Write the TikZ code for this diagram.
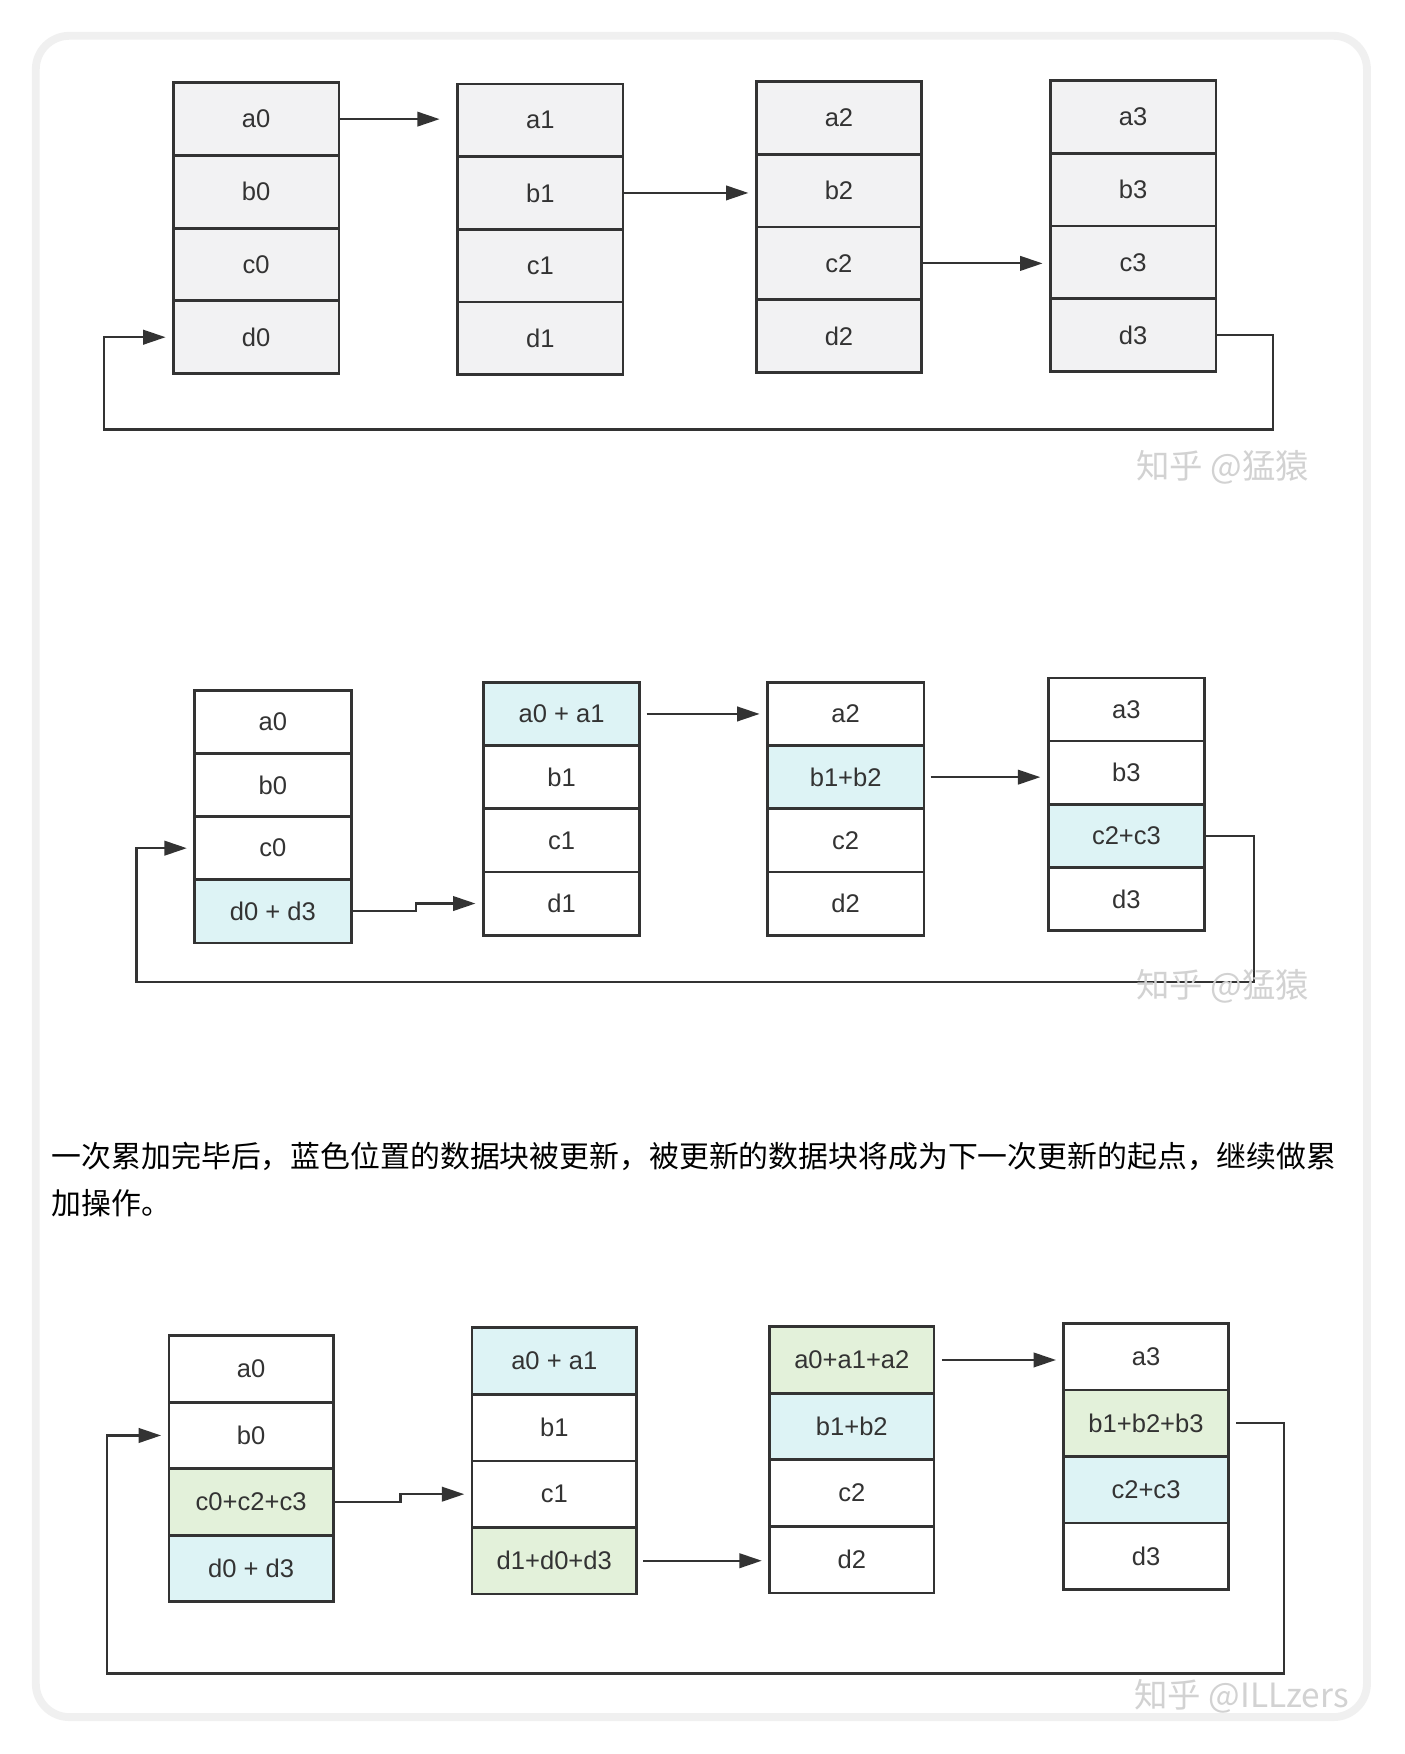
\documentclass[tikz,border=0pt]{standalone}
\usepackage{fontspec}
\setmainfont{Liberation Sans}
\newfontfamily\cjk{Noto Sans CJK SC}
\usetikzlibrary{positioning,arrows.meta}
\definecolor{cellgray}{HTML}{F2F2F3}
\definecolor{cellblue}{HTML}{DDF3F5}
\definecolor{cellgreen}{HTML}{E3F1DA}
\definecolor{linegray}{HTML}{333333}
\tikzset{my cell/.style={draw=linegray, line width=1.4pt, minimum width=2.96cm, outer sep=0pt, inner sep=0pt, font=\fontsize{13}{15}\selectfont, text=linegray},
my link/.style={draw=linegray, line width=1.1pt, -{Triangle[length=0.4cm,width=0.26cm]}, shorten >=0.14cm},
my mark/.style={font=\cjk\fontsize{17}{20}\selectfont, text=gray!35},}
\begin{document}
\begin{tikzpicture}[x=0.02cm,y=-0.02cm]
\useasboundingbox (0,0) rectangle (1256,1568);
\fill[white] (0,0) rectangle (1256,1568);
\draw[gray!12, line width=4pt, rounded corners=0.6cm, fill=white] (32,32) rectangle (1222,1535);
% first picture
\begin{scope}[every node/.append style={my cell, fill=cellgray, minimum height=1.3cm}]
\node [anchor=north west] (p1a0) at (155,74) {a0};
\node [below=0pt of p1a0] (p1b0) {b0};
\node [below=0pt of p1b0] (p1c0) {c0};
\node [below=0pt of p1c0] (p1d0) {d0};
\node [anchor=north west] (p1a1) at (409,75) {a1};
\node [below=0pt of p1a1] (p1b1) {b1};
\node [below=0pt of p1b1] (p1c1) {c1};
\node [below=0pt of p1c1] (p1d1) {d1};
\node [anchor=north west] (p1a2) at (676,73) {a2};
\node [below=0pt of p1a2] (p1b2) {b2};
\node [below=0pt of p1b2] (p1c2) {c2};
\node [below=0pt of p1c2] (p1d2) {d2};
\node [anchor=north west] (p1a3) at (939,72) {a3};
\node [below=0pt of p1a3] (p1b3) {b3};
\node [below=0pt of p1b3] (p1c3) {c3};
\node [below=0pt of p1c3] (p1d3) {d3};
\end{scope}
\coordinate (p1r) at (1138,384);
\coordinate (p1l) at (93,384);
\draw [my link, shorten >=0.32cm] (p1a0.east) -- (p1a0.east -| p1a1.west);
\draw [my link] (p1b1.east) -- (p1b1.east -| p1b2.west);
\draw [my link] (p1c2.east) -- (p1c2.east -| p1c3.west);
\draw [my link] (p1d3.east) -| (p1r) -- (p1l) |- (p1d0.west);
\node [my mark] (p1w) at (1093,418) {知乎 @猛猿};
% second picture
\begin{scope}[every node/.append style={my cell, fill=white, minimum height=1.13cm, minimum width=2.8cm}]
\node [anchor=north west] (p2a0) at (174,617) {a0};
\node [below=0pt of p2a0] (p2b0) {b0};
\node [below=0pt of p2b0] (p2c0) {c0};
\node [below=0pt of p2c0, fill=cellblue] (p2d0) {d0 + d3};
\node [anchor=north west, fill=cellblue] (p2a1) at (432,610) {a0 + a1};
\node [below=0pt of p2a1] (p2b1) {b1};
\node [below=0pt of p2b1] (p2c1) {c1};
\node [below=0pt of p2c1] (p2d1) {d1};
\node [anchor=north west] (p2a2) at (686,610) {a2};
\node [below=0pt of p2a2, fill=cellblue] (p2b2) {b1+b2};
\node [below=0pt of p2b2] (p2c2) {c2};
\node [below=0pt of p2c2] (p2d2) {d2};
\node [anchor=north west] (p2a3) at (937,606) {a3};
\node [below=0pt of p2a3] (p2b3) {b3};
\node [below=0pt of p2b3, fill=cellblue] (p2c3) {c2+c3};
\node [below=0pt of p2c3] (p2d3) {d3};
\end{scope}
\coordinate (p2r) at (1121,878);
\coordinate (p2l) at (122,878);
\draw [my link] (p2a1.east) ++(6,0) -- (p2a1.east -| p2a2.west);
\draw [my link] (p2b2.east) ++(6,0) -- (p2b2.east -| p2b3.west);
\draw [my link] (p2d0.east) -- ++(58,0) |- (p2d1.west);
\draw [my link] (p2c3.east) -| (p2r) -- (p2l) |- (p2c0.west);
\node [my mark] (p2w) at (1093,882) {知乎 @猛猿};
% text
\node [anchor=west, font=\cjk\fontsize{15.2}{18}\selectfont, inner sep=0pt] (t1) at (46,1034) {一次累加完毕后，蓝色位置的数据块被更新，被更新的数据块将成为下一次更新的起点，继续做累};
\node [anchor=west, font=\cjk\fontsize{15.2}{18}\selectfont, inner sep=0pt] (t2) at (46,1076) {加操作。};
% third picture
\begin{scope}[every node/.append style={my cell, fill=white, minimum height=1.19cm, minimum width=2.94cm}]
\node [anchor=north west] (p3a0) at (151,1194) {a0};
\node [below=0pt of p3a0] (p3b0) {b0};
\node [below=0pt of p3b0, fill=cellgreen] (p3c0) {c0+c2+c3};
\node [below=0pt of p3c0, fill=cellblue] (p3d0) {d0 + d3};
\node [anchor=north west, fill=cellblue] (p3a1) at (422,1187) {a0 + a1};
\node [below=0pt of p3a1] (p3b1) {b1};
\node [below=0pt of p3b1] (p3c1) {c1};
\node [below=0pt of p3c1, fill=cellgreen] (p3d1) {d1+d0+d3};
\node [anchor=north west, fill=cellgreen] (p3a2) at (688,1186) {a0+a1+a2};
\node [below=0pt of p3a2, fill=cellblue] (p3b2) {b1+b2};
\node [below=0pt of p3b2] (p3c2) {c2};
\node [below=0pt of p3c2] (p3d2) {d2};
\node [anchor=north west] (p3a3) at (951,1183) {a3};
\node [below=0pt of p3a3, fill=cellgreen] (p3b3) {b1+b2+b3};
\node [below=0pt of p3b3, fill=cellblue] (p3c3) {c2+c3};
\node [below=0pt of p3c3] (p3d3) {d3};
\end{scope}
\coordinate (p3r) at (1148,1496);
\coordinate (p3l) at (96,1496);
\draw [my link] (p3c0.east) -- ++(60,0) |- (p3c1.west);
\draw [my link] (p3d1.east) ++(6,0) -- (p3d1.east -| p3d2.west);
\draw [my link] (p3a2.east) ++(7,0) -- (p3a2.east -| p3a3.west);
\draw [my link] (p3b3.east) ++(7,0) -| (p3r) -- (p3l) |- (p3b0.west);
\node [my mark] (p3w) at (1110,1516) {知乎 @ILLzers};
\end{tikzpicture}
\end{document}
